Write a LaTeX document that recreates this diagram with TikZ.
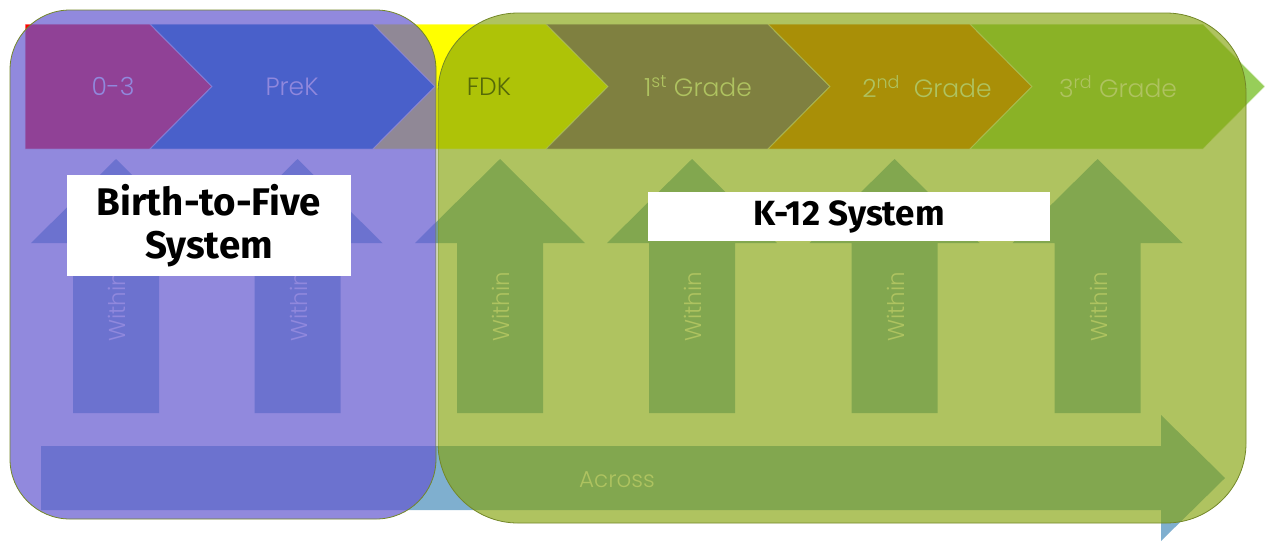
\documentclass[tikz,border=0pt]{standalone}
\usepackage{fontspec}
\newfontfamily\gothic{Poppins Light}
\newfontfamily\boxfont{Fira Sans}
\usetikzlibrary{positioning}

\definecolor{stepred}{RGB}{255,0,0}
\definecolor{stepblue}{RGB}{0,110,190}
\definecolor{stepyellow}{RGB}{255,255,0}
\definecolor{steppurple}{RGB}{120,63,163}
\definecolor{steporange}{RGB}{240,106,0}
\definecolor{stepgreen}{RGB}{151,206,89}
\definecolor{arrowblue}{RGB}{127,175,207}
\definecolor{earlyveil}{RGB}{102,91,208}
\definecolor{schoolveil}{RGB}{132,163,11}
\definecolor{veiledge}{RGB}{115,135,40}

\def \chevtop {24}
\def \chevbot {149}
\def \chevmid {86.5}
\def \chevtip {62}
\def \headtop {159}
\def \headbase {243}
\def \shaftbot {413}

\tikzstyle{chevron}=[draw=white, draw opacity=0.6, line width=1pt]
\tikzstyle{steplabel}=[font=\gothic\fontsize{25}{30}\selectfont, inner sep=0pt]
\tikzstyle{flow}=[fill=arrowblue]
\tikzstyle{flowlabel}=[font=\gothic\fontsize{23}{28}\selectfont, text=white, inner sep=0pt]
\tikzstyle{veil}=[draw=veiledge, line width=0.8pt]
\tikzstyle{syslabel}=[fill=white, align=center, inner sep=0pt, text=black]

\begin{document}
\begin{tikzpicture}[x=1pt, y=-1pt]
\useasboundingbox (0,0) rectangle (1265,550);

% steps along the top
\filldraw[chevron, fill=stepred] (25,\chevtop) -- (150,\chevtop) -- (150+\chevtip,\chevmid)
    -- (150,\chevbot) -- (25,\chevbot) -- cycle;
\foreach \l/\r/\col in {150/373/stepblue, 373/546/stepyellow, 546/768/steppurple,
                        768/970/steporange, 970/1203/stepgreen}
    \filldraw[chevron, fill=\col] (\l,\chevtop) -- (\r,\chevtop) -- (\r+\chevtip,\chevmid)
        -- (\r,\chevbot) -- (\l,\chevbot) -- (\l+\chevtip,\chevmid) -- cycle;

\node[steplabel, text=white] (s03) at (113,\chevmid) {0-3};
\node[steplabel, text=white] (sprek) at (292,\chevmid) {PreK};
\node[steplabel, text=black] (sfdk) at (489,\chevmid) {FDK};
\node[steplabel, text=white] (sfirst) at (698,\chevmid) {1\textsuperscript{st} Grade};
\node[steplabel, text=white] (ssecond) at (927,\chevmid) {2\textsuperscript{nd}\ \ Grade};
\node[steplabel, text=white] (sthird) at (1118,\chevmid) {3\textsuperscript{rd} Grade};

% within arrows
\foreach \cx [count=\i] in {116, 297.5, 500, 692, 894.5, 1097.5} {
    \fill[flow] (\cx-43,\shaftbot) -- (\cx-43,\headbase) -- (\cx-85,\headbase) -- (\cx,\headtop)
        -- (\cx+85,\headbase) -- (\cx+43,\headbase) -- (\cx+43,\shaftbot) -- cycle;
    \node[flowlabel, rotate=90] (within\i) at (\cx+1,307) {Within};
}

% across arrow
\fill[flow] (41,446) -- (1161,446) -- (1161,415) -- (1225,478) -- (1161,541) -- (1161,510)
    -- (41,510) -- cycle;
\node[flowlabel] (across) at (617,480) {Across};

% the two systems
\filldraw[veil, fill=earlyveil, fill opacity=0.72, rounded corners=60pt] (10,10) rectangle (436,519);
\filldraw[veil, fill=schoolveil, fill opacity=0.65, rounded corners=80pt] (438,13) rectangle (1246,523);

\node[syslabel, minimum width=284pt, minimum height=101pt,
      font=\boxfont\bfseries\fontsize{38.5}{43}\selectfont] (early) at (209,225.5) {Birth-to-Five\\System};
\node[syslabel, minimum width=402pt, minimum height=49pt,
      font=\boxfont\bfseries\fontsize{35}{38}\selectfont] (school) at (849,216.5) {K-12 System};

\end{tikzpicture}
\end{document}
